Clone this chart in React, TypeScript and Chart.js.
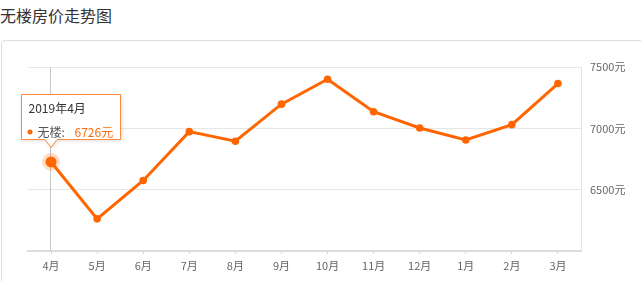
import React, { useEffect, useRef } from "react";
import { Chart, registerables } from "chart.js";

Chart.register(...registerables);

const chartTitle = "无楼房价走势图";
const months = ["4月", "5月", "6月", "7月", "8月", "9月", "10月", "11月", "12月", "1月", "2月", "3月"];
const prices = [6726, 6262, 6575, 6973, 6895, 7197, 7400, 7135, 7003, 6905, 7030, 7365];
const seriesName = "无楼";
const tooltipTitle = "2019年4月";
const activeIndex = 0;
const yMin = 6000;
const yMax = 7500;
const yStep = 500;
const unit = "元";

const FONT = '"Noto Sans CJK SC", "Noto Sans", sans-serif';
const ORANGE = "#ff6600";

const overlayPlugin = {
  id: "overlay",
  beforeDatasetsDraw(chart: any) {
    const meta = chart.getDatasetMeta(0);
    const pt = meta.data[activeIndex];
    if (!pt) return;
    const ctx = chart.ctx;
    const area = chart.chartArea;
    ctx.save();
    ctx.strokeStyle = "#c8c8c8";
    ctx.lineWidth = 1;
    ctx.beginPath();
    const x = Math.round(pt.x) - 0.5;
    ctx.moveTo(x, area.top);
    ctx.lineTo(x, area.bottom);
    ctx.stroke();
    ctx.restore();
  },
  afterDatasetsDraw(chart: any) {
    const meta = chart.getDatasetMeta(0);
    const pt = meta.data[activeIndex];
    if (!pt) return;
    const ctx = chart.ctx;
    ctx.save();
    // halo + active point
    ctx.fillStyle = "rgba(255,102,0,0.22)";
    ctx.beginPath();
    ctx.arc(pt.x, pt.y, 9, 0, Math.PI * 2);
    ctx.fill();
    ctx.fillStyle = ORANGE;
    ctx.beginPath();
    ctx.arc(pt.x, pt.y, 5.5, 0, Math.PI * 2);
    ctx.fill();

    // tooltip box
    const w = 99;
    const h = 45;
    const left = Math.round(pt.x - 30) + 0.5;
    const top = Math.round(pt.y - 68) + 0.5;
    const cx = pt.x;
    const caretH = 8;
    const caretW = 6;
    ctx.beginPath();
    ctx.moveTo(left, top);
    ctx.lineTo(left + w, top);
    ctx.lineTo(left + w, top + h);
    ctx.lineTo(cx + caretW, top + h);
    ctx.lineTo(cx, top + h + caretH);
    ctx.lineTo(cx - caretW, top + h);
    ctx.lineTo(left, top + h);
    ctx.closePath();
    ctx.shadowColor = "rgba(0,0,0,0.15)";
    ctx.shadowBlur = 4;
    ctx.shadowOffsetX = 1;
    ctx.shadowOffsetY = 1;
    ctx.fillStyle = "#ffffff";
    ctx.fill();
    ctx.shadowColor = "transparent";
    ctx.strokeStyle = "#ff8a3d";
    ctx.lineWidth = 1;
    ctx.stroke();

    ctx.textBaseline = "middle";
    ctx.textAlign = "left";
    ctx.font = `12px ${FONT}`;
    ctx.fillStyle = "#333333";
    ctx.fillText(tooltipTitle, left + 7, top + 13.5);

    ctx.fillStyle = ORANGE;
    ctx.beginPath();
    ctx.arc(left + 8.5, top + 37.5, 2.5, 0, Math.PI * 2);
    ctx.fill();

    ctx.fillStyle = "#555555";
    ctx.fillText(seriesName + ":", left + 16, top + 37.5);
    ctx.fillStyle = "#ff6a10";
    ctx.fillText(prices[activeIndex] + unit, left + 53, top + 37.5);
    ctx.restore();
  },
};

export default function App() {
  const canvasRef = useRef<HTMLCanvasElement>(null);

  useEffect(() => {
    if (!canvasRef.current) return;
    const chart = new Chart(canvasRef.current, {
      type: "line",
      data: {
        labels: months,
        datasets: [
          {
            label: seriesName,
            data: prices,
            borderColor: ORANGE,
            backgroundColor: ORANGE,
            borderWidth: 3,
            pointRadius: 3.8,
            pointBackgroundColor: ORANGE,
            pointBorderWidth: 0,
            tension: 0,
            fill: false,
          },
        ],
      },
      options: {
        responsive: false,
        animation: false,
        events: [],
        layout: { padding: { top: 67, left: 28, right: 0, bottom: 0 } },
        plugins: {
          legend: { display: false },
          tooltip: { enabled: false },
          title: { display: false },
        },
        scales: {
          x: {
            type: "category",
            offset: true,
            afterFit: (scale: any) => {
              scale.height = 30;
            },
            grid: {
              display: true,
              drawOnChartArea: false,
              drawTicks: true,
              tickLength: 3,
              offset: false,
              color: "#d8d8d8",
            },
            border: { display: true, color: "#dddddd", width: 2 },
            ticks: {
              autoSkip: false,
              maxRotation: 0,
              padding: 5,
              color: "#666666",
              font: { family: FONT, size: 11 },
            },
          },
          y: {
            position: "right",
            min: yMin,
            max: yMax,
            afterFit: (scale: any) => {
              scale.width = 60;
            },
            grid: { color: "#e6e6e6", drawTicks: false, lineWidth: 1 },
            border: { display: true, color: "#e2e2e2", width: 1 },
            ticks: {
              stepSize: yStep,
              padding: 9,
              color: "#666666",
              font: { family: FONT, size: 11 },
              callback: (v: any) => (Number(v) === yMin ? "" : v + unit),
            },
          },
        },
      },
      plugins: [overlayPlugin],
    });
    return () => chart.destroy();
  }, []);

  return (
    <div style={{ position: "absolute", left: 0, top: 0, width: 641, height: 281, overflow: "hidden", background: "#fff" }}>
      <div
        style={{
          position: "absolute",
          left: 0,
          top: 4,
          fontFamily: FONT,
          fontSize: 16,
          lineHeight: "22px",
          color: "#333",
          whiteSpace: "nowrap",
        }}
      >
        {chartTitle}
      </div>
      <div
        style={{
          position: "absolute",
          left: 1,
          top: 40,
          width: 720,
          height: 320,
          border: "1px solid #dedede",
          borderRadius: 4,
          boxSizing: "border-box",
        }}
      />
      <canvas ref={canvasRef} width={641} height={281} style={{ position: "absolute", left: 0, top: 0 }} />
    </div>
  );
}
